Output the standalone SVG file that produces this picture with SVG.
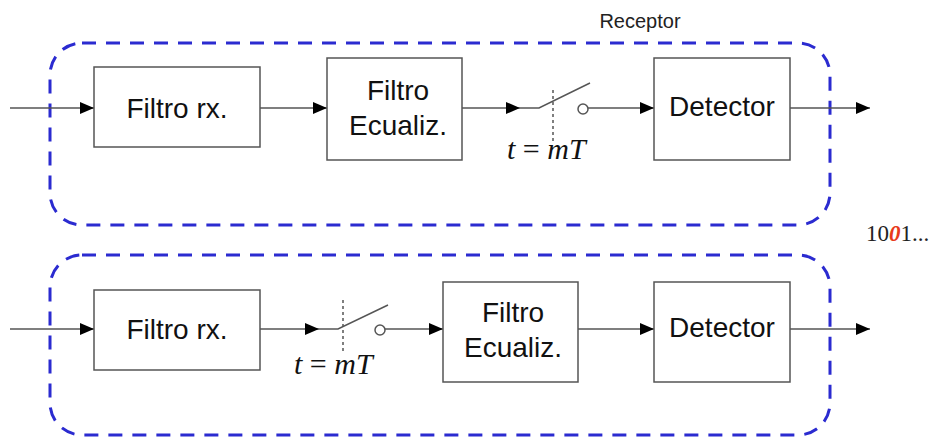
<svg xmlns="http://www.w3.org/2000/svg" width="932" height="440" viewBox="0 0 932 440">
<defs>
<marker id="ah" viewBox="0 0 14 12" refX="14" refY="6" markerWidth="14" markerHeight="12" markerUnits="userSpaceOnUse" orient="auto">
<path d="M0,0 L14,6 L0,12 Z" fill="#000"/>
</marker>
</defs>
<style>
.blk{fill:#fff;stroke:#555;stroke-width:1.5}
.lbl{font-family:"Liberation Sans",Arial,sans-serif;font-size:28px;fill:#111;text-anchor:middle}
.ln{stroke:#555;stroke-width:1.5;fill:none}
.dash{fill:none;stroke:#2b2bd0;stroke-width:3;stroke-dasharray:14 10}
.tick{stroke:#555;stroke-width:1.5;stroke-dasharray:3 3}
.math{font-family:"Liberation Serif","Times New Roman",serif;font-size:30px;fill:#111;font-style:italic}
</style>
<rect width="932" height="440" fill="#fff"/>
<g id="receptor-top">
<rect class="dash" x="50" y="43" width="780" height="182" rx="32"/>
</g>
<g id="receptor-bottom">
<rect class="dash" x="50" y="255" width="780" height="180" rx="32"/>
</g>
<text x="640" y="28" font-family="'Liberation Sans',Arial,sans-serif" font-size="20" fill="#222" text-anchor="middle">Receptor</text>
<g id="connectors">
<line class="ln" x1="10" y1="108" x2="94" y2="108" marker-end="url(#ah)"/>
<line class="ln" x1="260" y1="108" x2="327" y2="108" marker-end="url(#ah)"/>
<line class="ln" x1="462" y1="108" x2="520" y2="108" marker-end="url(#ah)"/>
<polyline class="ln" points="520,108 539,108 590,83"/>
<line class="tick" x1="553" y1="90" x2="553" y2="141"/>
<circle cx="583" cy="109" r="5" fill="#fff" stroke="#555" stroke-width="1.5"/>
<line class="ln" x1="588" y1="108" x2="654" y2="108" marker-end="url(#ah)"/>
<line class="ln" x1="790" y1="108" x2="870" y2="108" marker-end="url(#ah)"/>
<line class="ln" x1="10" y1="329" x2="94" y2="329" marker-end="url(#ah)"/>
<line class="ln" x1="260" y1="329" x2="319" y2="329" marker-end="url(#ah)"/>
<polyline class="ln" points="319,329 338,329 388,305"/>
<line class="tick" x1="343" y1="300" x2="343" y2="352"/>
<circle cx="380" cy="330" r="5" fill="#fff" stroke="#555" stroke-width="1.5"/>
<line class="ln" x1="385" y1="329" x2="443" y2="329" marker-end="url(#ah)"/>
<line class="ln" x1="578" y1="329" x2="654" y2="329" marker-end="url(#ah)"/>
<line class="ln" x1="790" y1="329" x2="870" y2="329" marker-end="url(#ah)"/>
</g>
<text class="math" x="507" y="159">t <tspan font-style="normal">=</tspan> mT</text>
<text class="math" x="294" y="374">t <tspan font-style="normal">=</tspan> mT</text>
<g id="filtro-rx-1">
<rect class="blk" x="94" y="67" width="166" height="80"/>
<text class="lbl" x="177" y="118">Filtro rx.</text>
</g>
<g id="filtro-ecualiz-1">
<rect class="blk" x="327" y="58" width="135" height="102"/>
<text class="lbl" x="398" y="100">Filtro</text>
<text class="lbl" x="398" y="135">Ecualiz.</text>
</g>
<g id="detector-1">
<rect class="blk" x="654" y="58" width="136" height="102"/>
<text class="lbl" x="722" y="116">Detector</text>
</g>
<g id="filtro-rx-2">
<rect class="blk" x="94" y="290" width="166" height="80"/>
<text class="lbl" x="177" y="339">Filtro rx.</text>
</g>
<g id="filtro-ecualiz-2">
<rect class="blk" x="443" y="282" width="135" height="100"/>
<text class="lbl" x="513" y="322">Filtro</text>
<text class="lbl" x="513" y="357">Ecualiz.</text>
</g>
<g id="detector-2">
<rect class="blk" x="654" y="282" width="136" height="100"/>
<text class="lbl" x="722" y="337">Detector</text>
</g>
<text x="866" y="241" font-family="'Liberation Serif','Times New Roman',serif" font-size="23" fill="#222">10<tspan fill="#e83a1a" font-style="italic" font-weight="bold">0</tspan>1...</text>
</svg>
